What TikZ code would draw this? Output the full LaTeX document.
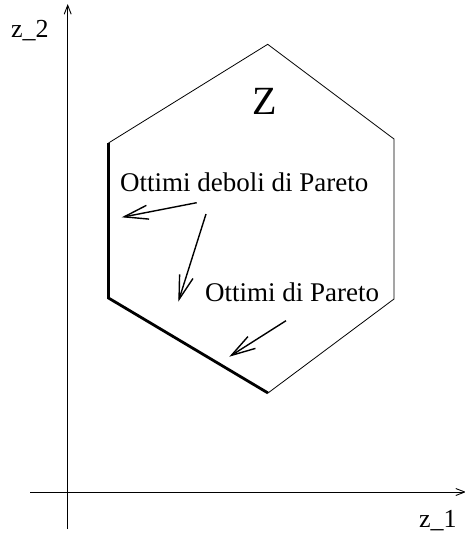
\documentclass[tikz,border=0pt]{standalone}
\usepackage{fontspec}
\setmainfont{Liberation Serif}
\usetikzlibrary{arrows.meta}

\begin{document}
\begin{tikzpicture}[
    x=1pt,y=-1pt,
    axis/.style={-{Straight Barb[length=9pt,width=7pt]},line width=0.9pt},
    edge/.style={line width=0.8pt},
    front/.style={line width=2.8pt,line join=miter},
    label/.style={font=\fontsize{27}{31}\selectfont,inner sep=0pt},
    axlabel/.style={font=\fontsize{26}{30}\selectfont,inner sep=0pt},
    arrow/.style={-{Straight Barb[length=24pt,width=14pt]},line width=1.4pt}
  ]
    \useasboundingbox (0,0) rectangle (465,533);
    % axes
    \coordinate (o1) at (30,492);
    \coordinate (e1) at (466,492);
    \coordinate (o2) at (67.7,529);
    \coordinate (e2) at (67.7,4);
    \draw[axis] (o1) -- (e1);
    \draw[axis] (o2) -- (e2);
    \node[axlabel,anchor=base west] (z1) at (419,527) {z\_1};
    \node[axlabel,anchor=base west] (z2) at (11,37) {z\_2};
    % the set Z
    \coordinate (top) at (267.7,44.3);
    \coordinate (ur) at (394,139);
    \coordinate (lr) at (394,299);
    \coordinate (bot) at (268,393);
    \coordinate (ll) at (108.5,298);
    \coordinate (ul) at (108.5,143);
    \draw[edge] (ul) -- (top) -- (ur) -- (lr) -- (bot);
    \draw[front] (ul) -- (ll) -- (bot);
    \node[font=\fontsize{40}{44}\selectfont,inner sep=0pt] (Z) at (264.5,101.5) {Z};
    \node[label,anchor=base west] (weak) at (120,191) {Ottimi deboli di Pareto};
    \node[label,anchor=base west] (strong) at (205,301) {Ottimi di Pareto};
    % arrows
    \coordinate (w1) at (196.7,202.7);
    \coordinate (w2) at (206,214);
    \coordinate (s1) at (286,320.7);
    \draw[arrow] (w1) -- (121.7,217.3) coordinate (wt1);
    \draw[arrow] (w2) -- (178.3,301.7) coordinate (wt2);
    \draw[arrow] (s1) -- (229.3,356.7) coordinate (st);
  \end{tikzpicture}
\end{document}
